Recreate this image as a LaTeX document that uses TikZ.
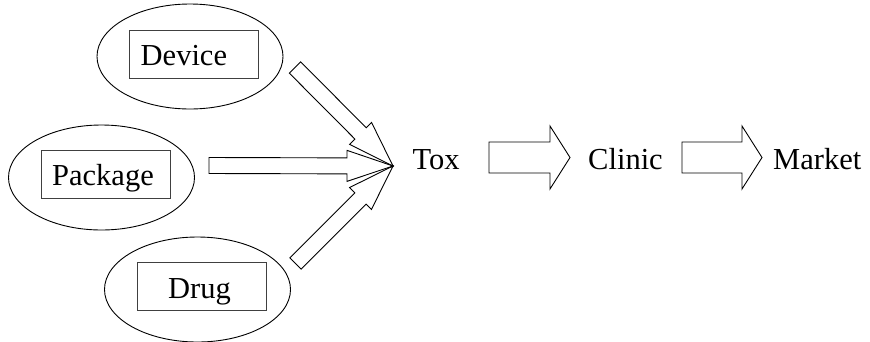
\documentclass[tikz,border=0pt]{standalone}
\usepackage{fontspec}
\setmainfont{Liberation Serif}
\usetikzlibrary{calc,shapes.geometric}
\tikzset{
  ell/.style={draw=black, line width=0.9pt, ellipse, inner sep=0pt, minimum width=186pt, minimum height=105pt},
  box/.style={draw=black!75, line width=0.9pt, rectangle, inner sep=0pt, minimum width=129pt, minimum height=48pt},
  lbl/.style={inner sep=0pt, anchor=base west, font=\fontsize{30.5}{36}\selectfont},
  blk/.style={draw=black, line width=0.9pt, line join=miter},
}
\newcommand\blockarrow[5]{%
  \coordinate (hb) at ($(#2)!#5!(#1)$);
  \draw[blk] ($(#1)!#3!90:(#2)$) -- ($(hb)!#3!90:(#2)$) -- ($(hb)!#4!90:(#2)$) -- (#2)
    -- ($(hb)!#4!-90:(#2)$) -- ($(hb)!#3!-90:(#2)$) -- ($(#1)!#3!-90:(#2)$) -- cycle;
}
\begin{document}
\begin{tikzpicture}[x=1pt,y=-1pt]
\useasboundingbox (0,0) rectangle (870,341);
% ellipses
\node[ell] (deve) at (190,56.5) {};
\node[ell] (pace) at (101.5,177.5) {};
\node[ell] (druge) at (197.5,289.5) {};
% boxes
\node[box] (devb) at (193.5,54) {};
\node[box] (pacb) at (106,174.5) {};
\node[box] (drugb) at (202,286) {};
% labels
\node[lbl] (devt) at (140.5,65) {Device};
\node[lbl] (pact) at (52,185) {Package};
\node[lbl] (drugt) at (168,298) {Drug};
\node[lbl] (tox) at (412.5,169) {Tox};
\node[lbl] (clinic) at (588,169) {Clinic};
\node[lbl] (market) at (773,169) {Market};
% left block arrows
\coordinate (tip) at (393,166);
\coordinate (tup) at (295,67.5);
\coordinate (tmid) at (209,165.5);
\coordinate (tlow) at (295.5,263.5);
\blockarrow{tup}{tip}{8pt}{15.5pt}{46pt}
\blockarrow{tmid}{tip}{8pt}{15.5pt}{46pt}
\blockarrow{tlow}{tip}{8pt}{15.5pt}{46pt}
% right block arrows
\coordinate (a1s) at (489,157.5);
\coordinate (a1e) at (570,157.5);
\coordinate (a2s) at (682,157.5);
\coordinate (a2e) at (762,157.5);
\blockarrow{a1s}{a1e}{15.5pt}{31.5pt}{20pt}
\blockarrow{a2s}{a2e}{15.5pt}{31.5pt}{20pt}
\end{tikzpicture}
\end{document}
